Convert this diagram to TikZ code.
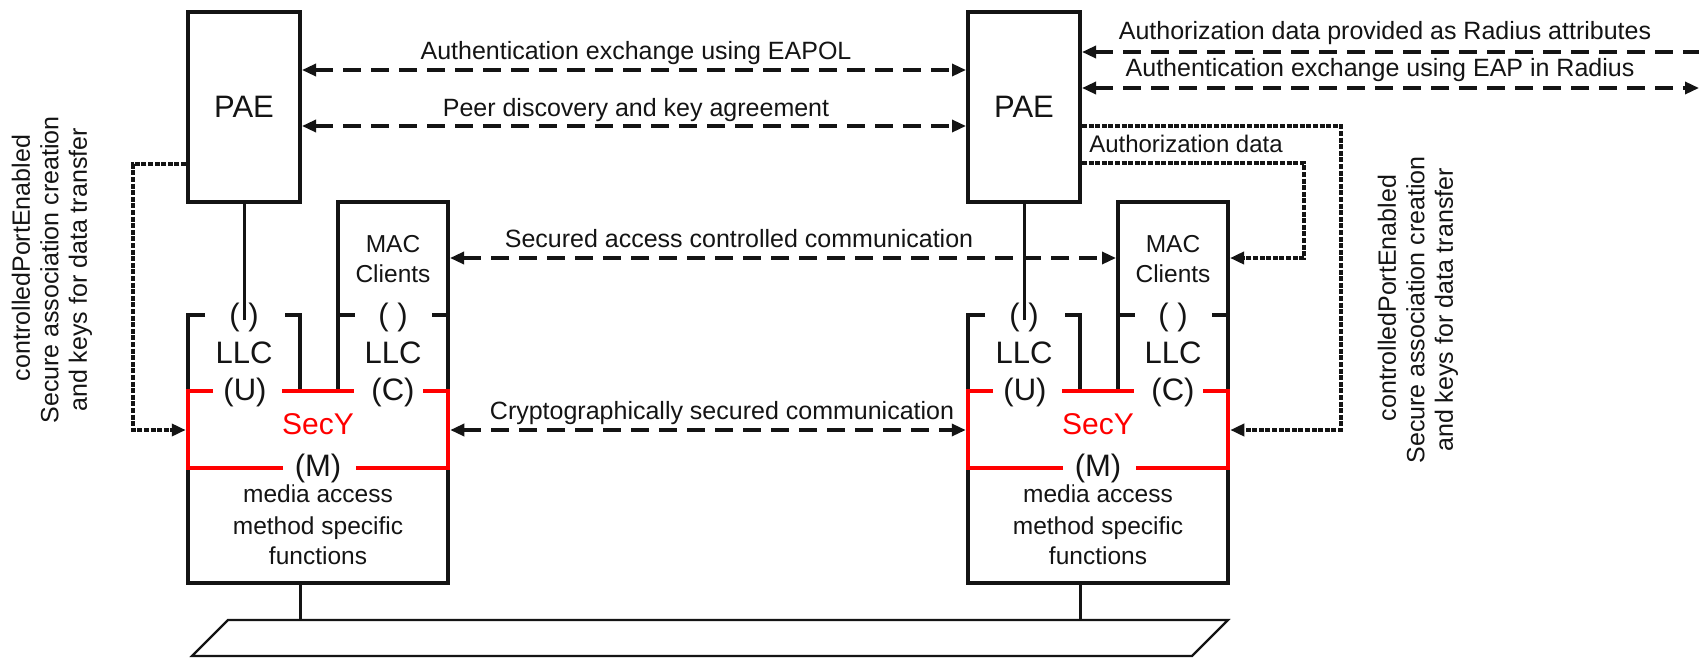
\documentclass[tikz,border=0pt]{standalone}
\usepackage{fontspec}
\setmainfont{Liberation Sans}
\usetikzlibrary{arrows.meta}
\definecolor{secyred}{RGB}{255,0,0}
\definecolor{ink}{RGB}{20,20,20}
\tikzset{
  boxline/.style={line width=4pt, draw=ink, line join=miter},
  redline/.style={line width=4.5pt, draw=secyred, line join=miter},
  thinline/.style={line width=3pt, draw=ink},
  netline/.style={line width=2.2pt, draw=ink, line join=miter},
  dasharrow/.style={line width=3.3pt, draw=ink, dash pattern=on 18pt off 10pt},
  dotarrow/.style={line width=3.6pt, draw=ink, dash pattern=on 5pt off 1.6pt, ->},
  lbl/.style={font=\fontsize{25}{30}\selectfont, text=ink, inner sep=0pt, anchor=base},
  boxtxt/.style={font=\fontsize{24.5}{30}\selectfont, text=ink, inner sep=0pt, anchor=base},
  bigtxt/.style={font=\fontsize{31}{36}\selectfont, text=ink, inner sep=0pt, anchor=base},
  paebox/.style={draw=ink, line width=4pt, minimum width=112pt, minimum height=190pt, inner sep=0pt, font=\fontsize{31}{36}\selectfont, text=ink},
  region/.style={draw=none, inner sep=0pt, outer sep=0pt},
  rotlbl/.style={rotate=90, align=center, font=\fontsize{25}{28.5}\selectfont, text=ink, inner sep=0pt},
}
\begin{document}
\begin{tikzpicture}[x=1pt,y=-1pt,>={Triangle[length=14pt,width=12pt]}]
\useasboundingbox (0,0) rectangle (1699,659);
\fill[white] (0,0) rectangle (1699,659);

% levels
\coordinate (yA) at (0,70);
\coordinate (yB) at (0,126);
\coordinate (yS) at (0,258);
\coordinate (yC) at (0,430);

% PAE boxes
\node[paebox] (paeL) at (244,107) {PAE};
\node[paebox] (paeR) at (1024,107) {PAE};

\foreach \o/\s in {0/L,780/R}{
\begin{scope}[xshift=\o pt]
  % black frame
  \draw[boxline] (205,315) -- (188,315) -- (188,583) -- (448,583) -- (448,202) -- (338,202) -- (338,391);
  \draw[boxline] (285,315) -- (300,315) -- (300,391);
  \draw[boxline] (338,315) -- (355,315);
  \draw[boxline] (432,315) -- (448,315);
  \coordinate (llcin\s) at (244,320);
  \draw[thinline] (pae\s.south) -- (llcin\s);
  % helper regions
  \node[region, minimum width=114pt, minimum height=189pt] (mac\s) at (393,296.5) {};
  \node[region, minimum width=264.5pt, minimum height=81.5pt] (secy\s) at (318,429.5) {};
  % SecY red frame
  \draw[redline] (213,391) -- (188,391) -- (188,468) -- (283,468);
  \draw[redline] (356,468) -- (448,468) -- (448,391) -- (423,391);
  \draw[redline] (282,391) -- (354,391);
  % texts
  \node[boxtxt] (mact\s) at (393,252) {MAC};
  \node[boxtxt] (clit\s) at (393,282) {Clients};
  \node[bigtxt] (pu\s) at (244,325) {( )};
  \node[bigtxt] (pc\s) at (393,325) {( )};
  \node[bigtxt] (llcu\s) at (244,363) {LLC};
  \node[bigtxt] (llcc\s) at (393,363) {LLC};
  \node[bigtxt] (u\s) at (245,400) {(U)};
  \node[bigtxt] (c\s) at (393,400) {(C)};
  \node[bigtxt, text=secyred, font=\fontsize{30}{36}\selectfont] (secyt\s) at (318,434) {SecY};
  \node[boxtxt] (ma\s) at (318,502) {media access};
  \node[boxtxt] (ms\s) at (318,534) {method specific};
  \node[boxtxt] (mf\s) at (318,564) {functions};
  \node[bigtxt, fill=white, inner xsep=1pt, text depth=13pt] (mm\s) at (318,476) {(M)};
  % bus tap
  \coordinate (bus\s) at (300,583);
  \coordinate (tap\s) at (300,620);
  \draw[thinline] (bus\s) -- (tap\s);
\end{scope}
}

% network
\draw[netline] (228,620) -- (1228,620) -- (1192,656) -- (192,656) -- cycle;

% dashed exchanges
\draw[dasharrow,<->] (paeL.east |- yA) -- (paeR.west |- yA);
\draw[dasharrow,<->] (paeL.east |- yB) -- (paeR.west |- yB);
\draw[dasharrow,<->] (macL.east |- yS) -- (macR.west |- yS);
\draw[dasharrow,<->] (secyL.east |- yC) -- (secyR.west |- yC);
\coordinate (edgeA) at (1699,52);
\coordinate (edgeB) at (1699,88);
\draw[dasharrow,<-] (paeR.east |- edgeA) -- (edgeA);
\draw[dasharrow,<->] (paeR.east |- edgeB) -- (edgeB);

% dotted controls
\coordinate (bendL) at (133,164);
\draw[dotarrow] (paeL.west |- bendL) -- (bendL) |- (secyL.west |- yC);
\coordinate (bendRa) at (1341,126);
\draw[dotarrow] (paeR.east |- bendRa) -- (bendRa) |- (secyR.east |- yC);
\coordinate (bendRb) at (1304,163);
\draw[dotarrow] (paeR.east |- bendRb) -- (bendRb) |- (macR.east |- yS);

% labels
\node[lbl] (tA) at (636,59) {Authentication exchange using EAPOL};
\node[lbl] (tB) at (636,116) {Peer discovery and key agreement};
\node[lbl] (tS) at (739,247) {Secured access controlled communication};
\node[lbl] (tC) at (722,419) {Cryptographically secured communication};
\node[lbl] (tRa) at (1385,39) {Authorization data provided as Radius attributes};
\node[lbl] (tRb) at (1380,76) {Authentication exchange using EAP in Radius};
\node[lbl, font=\fontsize{24}{30}\selectfont] (tAD) at (1186,152) {Authorization data};

\node[rotlbl] (rotL) at (52,270) {\hspace*{24pt}controlledPortEnabled\\Secure association creation\\and keys for data transfer};
\node[rotlbl] (rotR) at (1418,310) {\hspace*{24pt}controlledPortEnabled\\Secure association creation\\and keys for data transfer};
\end{tikzpicture}
\end{document}
